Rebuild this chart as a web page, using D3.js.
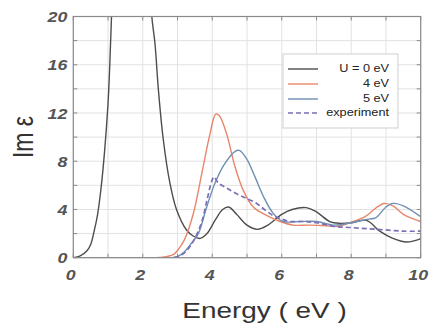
<!DOCTYPE html>
<html>
<head>
<meta charset="utf-8">
<script src="https://cdn.jsdelivr.net/npm/d3@7"></script>
<style>
  html, body { margin: 0; padding: 0; background: #fff; }
  svg { display: block; }
</style>
</head>
<body>
<svg id="chart" width="434" height="326"></svg>
<script>
// ---- data (energy in eV, Im epsilon) ----
const xTickLabels = [0, 2, 4, 6, 8, 10];
const yTickLabels = [0, 4, 8, 12, 16, 20];
const seriesNames = ["U = 0 eV", "4 eV", "5 eV", "experiment"];

const u0 = [[0,0],[0.2,0.15],[0.4,0.6],[0.5,1.1],[0.6,2.2],[0.7,3.6],[0.8,5.8],[0.9,8.8],[1.0,12.8],[1.05,16],[1.1,20],[1.15,24],
  [2.2,24],[2.26,20],[2.35,17.8],[2.45,13.9],[2.59,9.8],[2.78,6.2],[2.97,4.0],[3.26,2.3],[3.45,1.8],[3.65,1.6],[3.85,2.0],
  [4.1,3.2],[4.3,4.0],[4.47,4.2],[4.7,3.6],[5.0,2.7],[5.3,2.35],[5.6,2.7],[6.0,3.6],[6.3,4.0],[6.7,4.15],[7.0,3.8],
  [7.38,3.0],[7.67,2.85],[8.0,2.9],[8.44,3.1],[8.82,2.2],[9.2,1.6],[9.59,1.3],[9.93,1.5],[10,1.6]];
const u4 = [[0,0],[2.4,0],[2.7,0.1],[2.9,0.3],[3.0,0.6],[3.2,1.5],[3.45,3.6],[3.7,7.0],[3.93,10.2],[4.1,11.9],[4.2,11.8],
  [4.41,10.3],[4.65,7.6],[4.89,5.6],[5.18,4.2],[5.56,3.5],[5.95,3.0],[6.33,2.7],[6.8,2.7],[7.3,2.65],[7.6,2.6],[8.0,2.95],
  [8.4,3.4],[8.7,4.1],[8.95,4.5],[9.2,4.3],[9.5,3.6],[9.8,3.2],[10,3.0]];
const u5 = [[0,0],[2.8,0],[3.0,0.1],[3.2,0.5],[3.4,1.2],[3.6,2.0],[3.84,4.2],[4.08,6.2],[4.36,7.8],[4.65,8.8],[4.78,8.9],
  [4.99,8.2],[5.23,6.7],[5.47,5.1],[5.75,3.7],[6.04,3.0],[6.5,3.0],[7.0,3.0],[7.5,2.7],[8.0,2.9],[8.5,3.2],[8.7,3.3],
  [9.0,4.2],[9.2,4.5],[9.5,4.3],[10,3.4]];
const expt = [[2.9,0],[3.1,0.2],[3.3,0.7],[3.5,1.6],[3.7,3.0],[3.85,4.8],[3.98,6.3],[4.05,6.7],[4.17,6.2],[4.4,5.8],
  [4.7,5.3],[5.0,4.9],[5.28,4.5],[5.5,4.0],[5.75,3.5],[6.0,3.2],[6.23,3.0],[6.6,3.0],[7.0,2.9],[7.5,2.6],[8.0,2.5],
  [8.5,2.4],[9.0,2.3],[9.5,2.2],[10,2.2]];

// ---- layout ----
const svg = d3.select("#chart");
const L = 73.3, R = 420.7, T = 16.5, B = 257.7;
const SX = 1.27; // horizontal text stretch of the original
const x = d3.scaleLinear().domain([0, 10]).range([L, R]);
const y = d3.scaleLinear().domain([0, 20]).range([B, T]);

svg.append("rect").attr("width", 434).attr("height", 326).attr("fill", "#fff");

// grid
const xGrid = d3.range(0, 11, 1), yGrid = d3.range(0, 21, 2);
svg.append("g").selectAll("line").data(xGrid).join("line")
  .attr("x1", d => x(d)).attr("x2", d => x(d)).attr("y1", T).attr("y2", B)
  .attr("stroke", "#e2e2e2").attr("stroke-width", 1);
svg.append("g").selectAll("line").data(yGrid).join("line")
  .attr("x1", L).attr("x2", R).attr("y1", d => y(d)).attr("y2", d => y(d))
  .attr("stroke", "#e2e2e2").attr("stroke-width", 1);

// inner ticks on all sides
const tk = svg.append("g").attr("stroke", "#8a8a8a").attr("stroke-width", 1);
tk.selectAll(".tb").data(xGrid).join("line").attr("x1", d => x(d)).attr("x2", d => x(d)).attr("y1", B).attr("y2", B - 4);
tk.selectAll(".tt").data(xGrid).join("line").attr("x1", d => x(d)).attr("x2", d => x(d)).attr("y1", T).attr("y2", T + 4);
tk.selectAll(".tl").data(yGrid).join("line").attr("x1", L).attr("x2", L + 4).attr("y1", d => y(d)).attr("y2", d => y(d));
tk.selectAll(".tr").data(yGrid).join("line").attr("x1", R).attr("x2", R - 4).attr("y1", d => y(d)).attr("y2", d => y(d));

// axes labels via d3 axes
const xAxis = svg.append("g").attr("transform", `translate(0,${B})`)
  .call(d3.axisBottom(x).tickValues(xTickLabels).tickSize(0).tickPadding(0));
xAxis.select(".domain").remove();
xAxis.selectAll("text")
  .attr("y", 0).attr("dy", null)
  .attr("transform", `translate(-3,22) scale(${SX},1)`)
  .attr("font-family", "Liberation Sans, Arial, sans-serif")
  .attr("font-size", 14).attr("font-style", "italic").attr("font-weight", "bold")
  .attr("fill", "#555");

const yAxis = svg.append("g").attr("transform", `translate(${L},0)`)
  .call(d3.axisLeft(y).tickValues(yTickLabels).tickSize(0).tickPadding(0));
yAxis.select(".domain").remove();
yAxis.selectAll("text")
  .attr("x", 0).attr("dy", "0.36em")
  .attr("transform", `translate(-6,0) scale(${SX},1)`)
  .attr("font-family", "Liberation Sans, Arial, sans-serif")
  .attr("font-size", 14).attr("font-style", "italic").attr("font-weight", "bold")
  .attr("fill", "#555");

// clip
svg.append("clipPath").attr("id", "plotclip").append("rect")
  .attr("x", L).attr("y", T).attr("width", R - L).attr("height", B - T);

const line = d3.line().x(d => x(d[0])).y(d => y(d[1])).curve(d3.curveCatmullRom.alpha(0.5));
const lines = svg.append("g").attr("clip-path", "url(#plotclip)").attr("fill", "none");

const styles = [
  { data: u0, color: "#4d4d4d", w: 1.4, dash: null },
  { data: u4, color: "#e8866c", w: 1.4, dash: null },
  { data: u5, color: "#6f8fb3", w: 1.4, dash: null },
  { data: expt, color: "#7a70b6", w: 1.7, dash: "5,3" }
];
// draw black first (behind), then others
styles.forEach(s => {
  lines.append("path").attr("d", line(s.data))
    .attr("stroke", s.color).attr("stroke-width", s.w)
    .attr("stroke-dasharray", s.dash);
});

// frame
svg.append("rect").attr("x", L).attr("y", T).attr("width", R - L).attr("height", B - T)
  .attr("fill", "none").attr("stroke", "#8a8a8a").attr("stroke-width", 1.2);

// legend
const lg = svg.append("g");
lg.append("rect").attr("x", 283).attr("y", 54).attr("width", 115).attr("height", 74)
  .attr("fill", "#fff").attr("stroke", "#cfcfcf").attr("stroke-width", 1);
const rowY = [69, 84, 99, 113];
const textY = [72, 87, 102, 116];
styles.forEach((s, i) => {
  lg.append("line").attr("x1", 288).attr("x2", 318).attr("y1", rowY[i]).attr("y2", rowY[i])
    .attr("stroke", s.color).attr("stroke-width", s.w).attr("stroke-dasharray", s.dash);
  lg.append("text").text(seriesNames[i])
    .attr("text-anchor", "end")
    .attr("transform", `translate(389,${textY[i]}) scale(${SX},1)`)
    .attr("font-family", "Liberation Sans, Arial, sans-serif")
    .attr("font-size", 10).attr("fill", "#222");
});

// axis titles
svg.append("text").text("Energy ( eV )")
  .attr("text-anchor", "middle")
  .attr("transform", `translate(264.5,318) scale(${SX},1)`)
  .attr("font-family", "Liberation Sans, Arial, sans-serif")
  .attr("font-size", 22).attr("fill", "#333");
svg.append("text").text("Im ε")
  .attr("text-anchor", "middle")
  .attr("transform", `translate(33,137) scale(${SX},1) rotate(-90)`)
  .attr("font-family", "Liberation Sans, Arial, sans-serif")
  .attr("font-size", 23).attr("fill", "#333");
</script>
</body>
</html>
